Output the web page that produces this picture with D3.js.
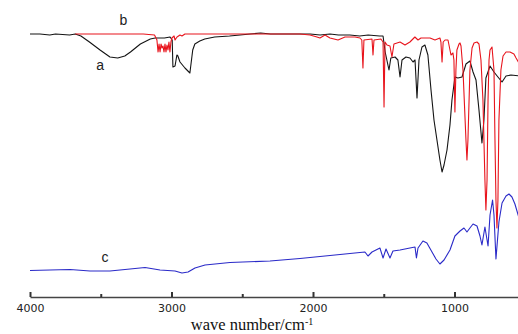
<!DOCTYPE html>
<html>
<head>
<meta charset="utf-8">
<script src="https://cdn.jsdelivr.net/npm/d3@7"></script>
<style>
  body { margin: 0; background: #fff; }
  svg { display: block; }
</style>
</head>
<body>
<svg id="chart" width="518" height="334"></svg>
<script>
// wavenumber (cm-1) and offset transmittance
const waveA = [4000, 3930, 3860, 3820, 3720, 3680, 3640, 3580, 3505, 3435, 3380, 3330, 3290, 3220, 3150, 3115, 3050, 3010,
  2995, 2990, 2975, 2962, 2955, 2940, 2905, 2870, 2850, 2835, 2800, 2765, 2695, 2590, 2515, 2445, 2370, 2300, 2090,
  2020, 1950, 1880, 1820, 1740, 1670, 1610, 1530, 1505, 1490, 1463, 1450, 1420, 1400, 1385, 1371, 1343, 1315, 1293,
  1279, 1265, 1251, 1230, 1209, 1188, 1166, 1145, 1124, 1103, 1088, 1074, 1053, 1032, 1018, 997, 976, 947, 919, 891,
  869, 848, 827, 806, 792, 778, 749, 721, 693, 664, 636, 601, 540];
const valuesA = [133, 133, 132.5, 133, 132.5, 133, 132, 129, 125, 121.5, 121, 122, 124, 128, 130.5, 131, 131, 131.5,
  130, 116.5, 117, 122.5, 122, 119, 116, 113.5, 125, 128, 129.5, 130.5, 131.5, 132, 132.5, 133, 133.5, 133, 133,
  133, 132.5, 133, 132.5, 132.5, 132, 132.5, 132, 132, 124, 115, 121, 121.5, 120, 111.5, 120, 121.5, 121, 119,
  120, 101, 120, 126.5, 127.5, 122.5, 105, 90, 80, 70, 64, 67.5, 75, 87.5, 100, 111.5, 111, 111.5, 118, 119.5,
  114, 110, 95, 78.5, 90, 111, 117, 114, 111.5, 109, 112, 112.5, 112];

const waveB = [3680, 3200, 3120, 3103, 3095, 3088, 3081, 3074, 3067, 3060, 3053, 3046, 3039, 3032, 3025, 3018, 3011,
  3004, 2997, 2982, 2975, 2961, 2940, 2926, 2905, 2500, 2092, 2021, 1972, 1951, 1915, 1880, 1823, 1774, 1739, 1703,
  1668, 1655, 1647, 1640, 1583, 1576, 1569, 1520, 1505, 1498, 1491, 1477, 1456, 1442, 1428, 1406, 1385, 1350, 1315,
  1280, 1258, 1237, 1209, 1173, 1138, 1103, 1096, 1088, 1080, 1067, 1046, 1025, 1011, 1004, 997, 990, 983, 968, 961,
  954, 940, 919, 912, 905, 891, 876, 862, 841, 827, 813, 799, 785, 778, 770, 763, 756, 749, 735, 721, 714, 707, 700,
  693, 686, 672, 657, 636, 608, 580, 565, 540];
const valuesB = [133, 133, 132.5, 130, 124, 128, 124, 128, 126, 127, 124, 128, 124, 127.5, 125, 129, 124,
  129, 131, 132, 130, 131.5, 132.5, 132, 133, 133, 133, 132.5, 131.5, 131, 132.5, 131, 130, 131.5, 131.5, 131.5,
  131, 130, 116, 130, 130.5, 122.5, 130, 130.5, 129, 96.5, 129, 127.5, 127, 121.5, 128, 128.5, 129, 127.5, 129,
  131.5, 130, 131, 131, 131, 130, 131, 129, 119, 129, 130, 130, 122.5, 123.5, 120, 94, 115, 125, 128, 128.5,
  127, 115, 80, 70, 80, 115, 126, 128.5, 129, 128, 120, 100, 60, 45, 60, 100, 120, 125, 126.5, 115, 80, 50, 36,
  50, 90, 115, 122, 124, 124, 123, 121, 118];

const waveC = [4000, 3859, 3717, 3576, 3435, 3293, 3187, 3081, 2975, 2926, 2883, 2834, 2763, 2587, 2304, 2092, 1880,
  1739, 1633, 1611, 1583, 1527, 1505, 1484, 1456, 1435, 1385, 1315, 1279, 1269, 1258, 1223, 1195, 1159, 1131, 1103,
  1074, 1032, 997, 961, 933, 912, 891, 869, 841, 820, 806, 785, 763, 749, 731, 721, 707, 686, 664, 636, 615, 594,
  573, 540];
const valuesC = [14.75, 15, 15.25, 14.5, 14.5, 15.5, 16.25, 15, 14.5, 13.5, 14, 16, 17.5, 18.75, 19.5, 20.75, 22.25,
  23.25, 24, 22, 24, 26, 21, 25.5, 21, 24.5, 25, 26, 26.5, 21, 26, 29.5, 28.5, 24, 20.5, 18,
  20, 25, 32, 34.5, 36, 34, 36, 38, 37, 32, 27.5, 36.5, 27, 42.5, 50, 42.5, 20.5, 39, 48.5, 52, 53, 51.5,
  48, 40];

const majorTicks = [4000, 3000, 2000, 1000];
const minorTicks = [3500, 2500, 1500];
const seriesLabels = ["a", "b", "c"];

const svg = d3.select("#chart");

const x = d3.scaleLinear().domain([4000, 500]).range([30, 525.25]);
const y = d3.scaleLinear().domain([0, 150]).range([300, 0]);

const line = d3.line()
    .x(d => x(d[0]))
    .y(d => y(d[1]));

const series = [
    { name: "a", wave: waveA, vals: valuesA, color: "#141414" },
    { name: "b", wave: waveB, vals: valuesB, color: "#e8141c" },
    { name: "c", wave: waveC, vals: valuesC, color: "#2a2ac8" }
];

series.forEach(s => {
    svg.append("path")
        .datum(d3.zip(s.wave, s.vals))
        .attr("d", line)
        .attr("fill", "none")
        .attr("stroke", s.color)
        .attr("stroke-width", 1.1)
        .attr("stroke-linejoin", "round");
});

// curve labels
const labelPos = [[3505, 117.5], [3340, 140], [3470, 21.5]];
svg.selectAll(".curve-label")
    .data(seriesLabels)
    .join("text")
    .attr("class", "curve-label")
    .attr("x", (d, i) => x(labelPos[i][0]))
    .attr("y", (d, i) => y(labelPos[i][1]))
    .attr("text-anchor", "middle")
    .attr("dy", "0.35em")
    .attr("font-family", "'Liberation Sans', Arial, sans-serif")
    .attr("font-size", 14)
    .attr("fill", "#222")
    .text(d => d);

// x axis, ticks pointing up
const axisY = 297;
const major = svg.append("g")
    .attr("transform", `translate(0,${axisY})`)
    .call(d3.axisBottom(x).tickValues(majorTicks).tickSizeInner(-5).tickSizeOuter(0).tickPadding(7)
        .tickFormat(d3.format("d")));
major.select(".domain").attr("stroke", "#444").attr("stroke-width", 1.5);
major.selectAll(".tick line").attr("stroke", "#333").attr("stroke-width", 2);
major.selectAll(".tick text")
    .attr("font-family", "'DejaVu Sans', Verdana, sans-serif")
    .attr("font-size", 11)
    .attr("fill", "#222");

const minor = svg.append("g")
    .attr("transform", `translate(0,${axisY})`)
    .call(d3.axisBottom(x).tickValues(minorTicks).tickSizeInner(-3).tickSizeOuter(0).tickFormat(""));
minor.select(".domain").remove();
minor.selectAll(".tick line").attr("stroke", "#333").attr("stroke-width", 2);

// axis title
const title = svg.append("text")
    .attr("x", 252)
    .attr("y", 330)
    .attr("text-anchor", "middle")
    .attr("font-family", "'Liberation Serif', 'Times New Roman', serif")
    .attr("font-size", 16.5)
    .attr("fill", "#111")
    .text("wave number/cm");
title.append("tspan")
    .attr("dy", -5)
    .attr("font-size", 10)
    .text("-1");
</script>
</body>
</html>
